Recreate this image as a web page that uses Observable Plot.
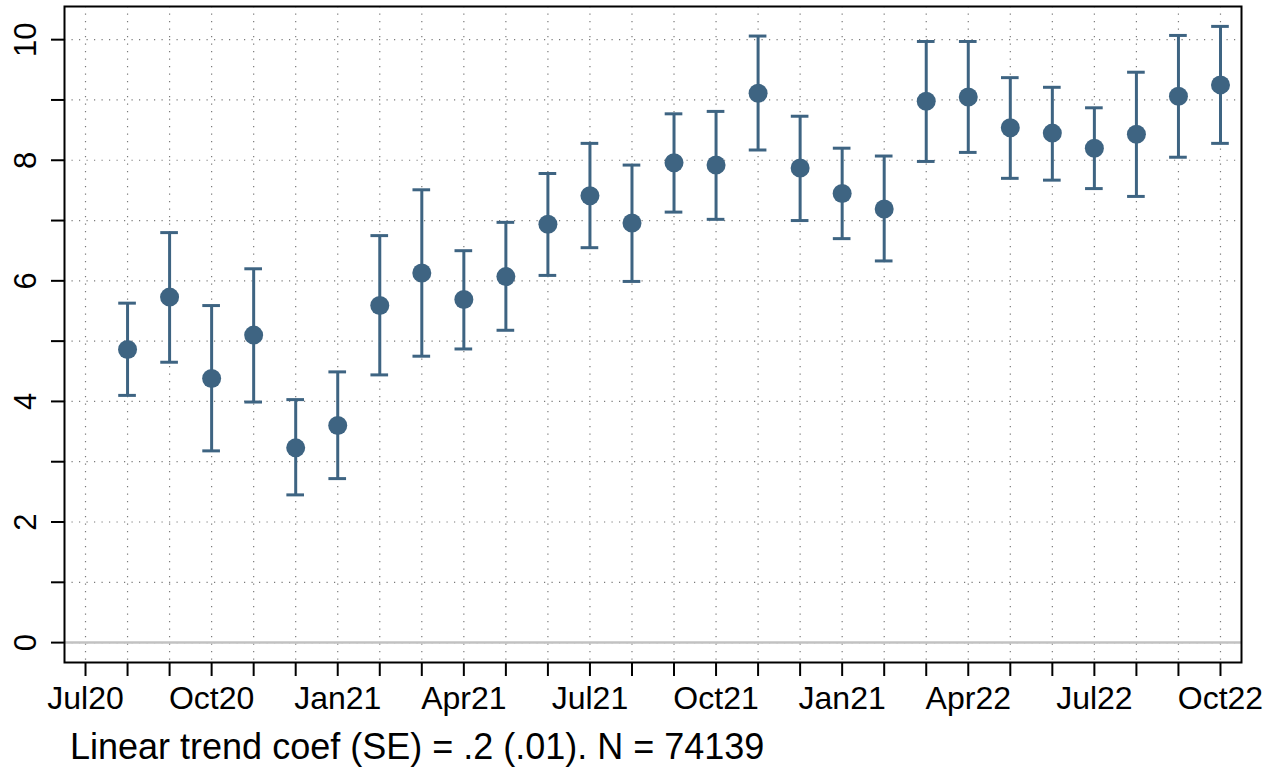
<!DOCTYPE html>
<html>
<head>
<meta charset="utf-8">
<script src="https://cdn.jsdelivr.net/npm/d3@7"></script>
<script src="https://cdn.jsdelivr.net/npm/@observablehq/plot@0.6"></script>
<style>
  html, body { margin: 0; padding: 0; background: white; }
  #chart svg { display: block; }
  #caption {
    position: absolute; left: 70px; top: 729px;
    font-family: "Liberation Sans", Arial, Helvetica, sans-serif;
    font-size: 36px; line-height: 36px; color: black; white-space: nowrap;
  }
</style>
</head>
<body>
<div id="chart"></div>
<div id="caption">Linear trend coef (SE) = .2 (.01). N = 74139</div>
<script>
// Months with estimates (Jul20 is tick position 0, no estimate)
const months = ["Aug20","Sep20","Oct20","Nov20","Dec20","Jan21","Feb21","Mar21","Apr21","May21",
  "Jun21","Jul21","Aug21","Sep21","Oct21","Nov21","Dec21","Jan22","Feb22","Mar22",
  "Apr22","May22","Jun22","Jul22","Aug22","Sep22","Oct22"];
const est = [4.86, 5.73, 4.38, 5.10, 3.23, 3.60, 5.59, 6.13, 5.69, 6.07,
  6.94, 7.41, 6.96, 7.96, 7.92, 9.11, 7.87, 7.45, 7.19, 8.98,
  9.05, 8.54, 8.45, 8.20, 8.43, 9.06, 9.25];
const hi = [5.63, 6.80, 5.59, 6.20, 4.03, 4.49, 6.75, 7.51, 6.50, 6.97,
  7.78, 8.28, 7.92, 8.77, 8.81, 10.06, 8.73, 8.20, 8.07, 9.97,
  9.97, 9.37, 9.21, 8.87, 9.46, 10.07, 10.22];
const lo = [4.10, 4.65, 3.18, 3.99, 2.45, 2.72, 4.44, 4.75, 4.87, 5.18,
  6.09, 6.55, 5.99, 7.14, 7.02, 8.17, 7.00, 6.70, 6.33, 7.98,
  8.13, 7.70, 7.67, 7.53, 7.40, 8.05, 8.28];
// x tick labels (every third month, starting Jul20), as printed on the chart
const tickLabels = ["Jul20","Oct20","Jan21","Apr21","Jul21","Oct21","Jan21","Apr22","Jul22","Oct22"];
const yTicks = [0,1,2,3,4,5,6,7,8,9,10];
const yLabels = [0,2,4,6,8,10];

const color = "#3e6482";
const data = months.map((m, i) => ({m, t: i + 1, est: est[i], lo: lo[i], hi: hi[i]}));
const xTicks = d3.range(0, months.length + 1);

const chart = Plot.plot({
  width: 1266,
  height: 726,
  marginTop: 6,
  marginLeft: 64,
  marginRight: 25,
  marginBottom: 64,
  style: {fontFamily: "'Liberation Sans', Arial, Helvetica, sans-serif", fontSize: "32px", background: "white", color: "black"},
  x: {domain: [-0.5, 27.5]},
  y: {domain: [-0.33, 10.55]},
  marks: [
    Plot.gridX(xTicks, {stroke: "#7a7a7a", strokeOpacity: 1, strokeWidth: 1.2, strokeDasharray: "1.2,6.3"}),
    Plot.gridY(yTicks, {stroke: "#7a7a7a", strokeOpacity: 1, strokeWidth: 1.2, strokeDasharray: "1.2,6.3"}),
    Plot.ruleY([0], {stroke: "#c2c2c2", strokeWidth: 2.5}),
    Plot.axisX(xTicks, {tickSize: 14, tickPadding: 10, strokeWidth: 2, fontSize: 32,
      tickFormat: t => t % 3 === 0 ? tickLabels[t / 3] : "", label: null}),
    Plot.axisY(yTicks, {tickSize: 13, strokeWidth: 2, tickFormat: () => "", label: null}),
    Plot.text(yLabels, {y: d => d, text: d => String(d), frameAnchor: "left", dx: -38.5,
      rotate: -90, textAnchor: "middle", lineAnchor: "middle", fontSize: 31, fill: "black"}),
    Plot.ruleX(data, {x: "t", y1: "lo", y2: "hi", stroke: color, strokeWidth: 3}),
    Plot.ruleY(data, {y: "hi", x1: d => d.t - 0.21, x2: d => d.t + 0.21, stroke: color, strokeWidth: 3}),
    Plot.ruleY(data, {y: "lo", x1: d => d.t - 0.21, x2: d => d.t + 0.21, stroke: color, strokeWidth: 3}),
    Plot.dot(data, {x: "t", y: "est", r: 9.5, fill: color, stroke: "none"}),
    Plot.frame({stroke: "black", strokeWidth: 2})
  ]
});
document.getElementById("chart").appendChild(chart);
</script>
</body>
</html>
